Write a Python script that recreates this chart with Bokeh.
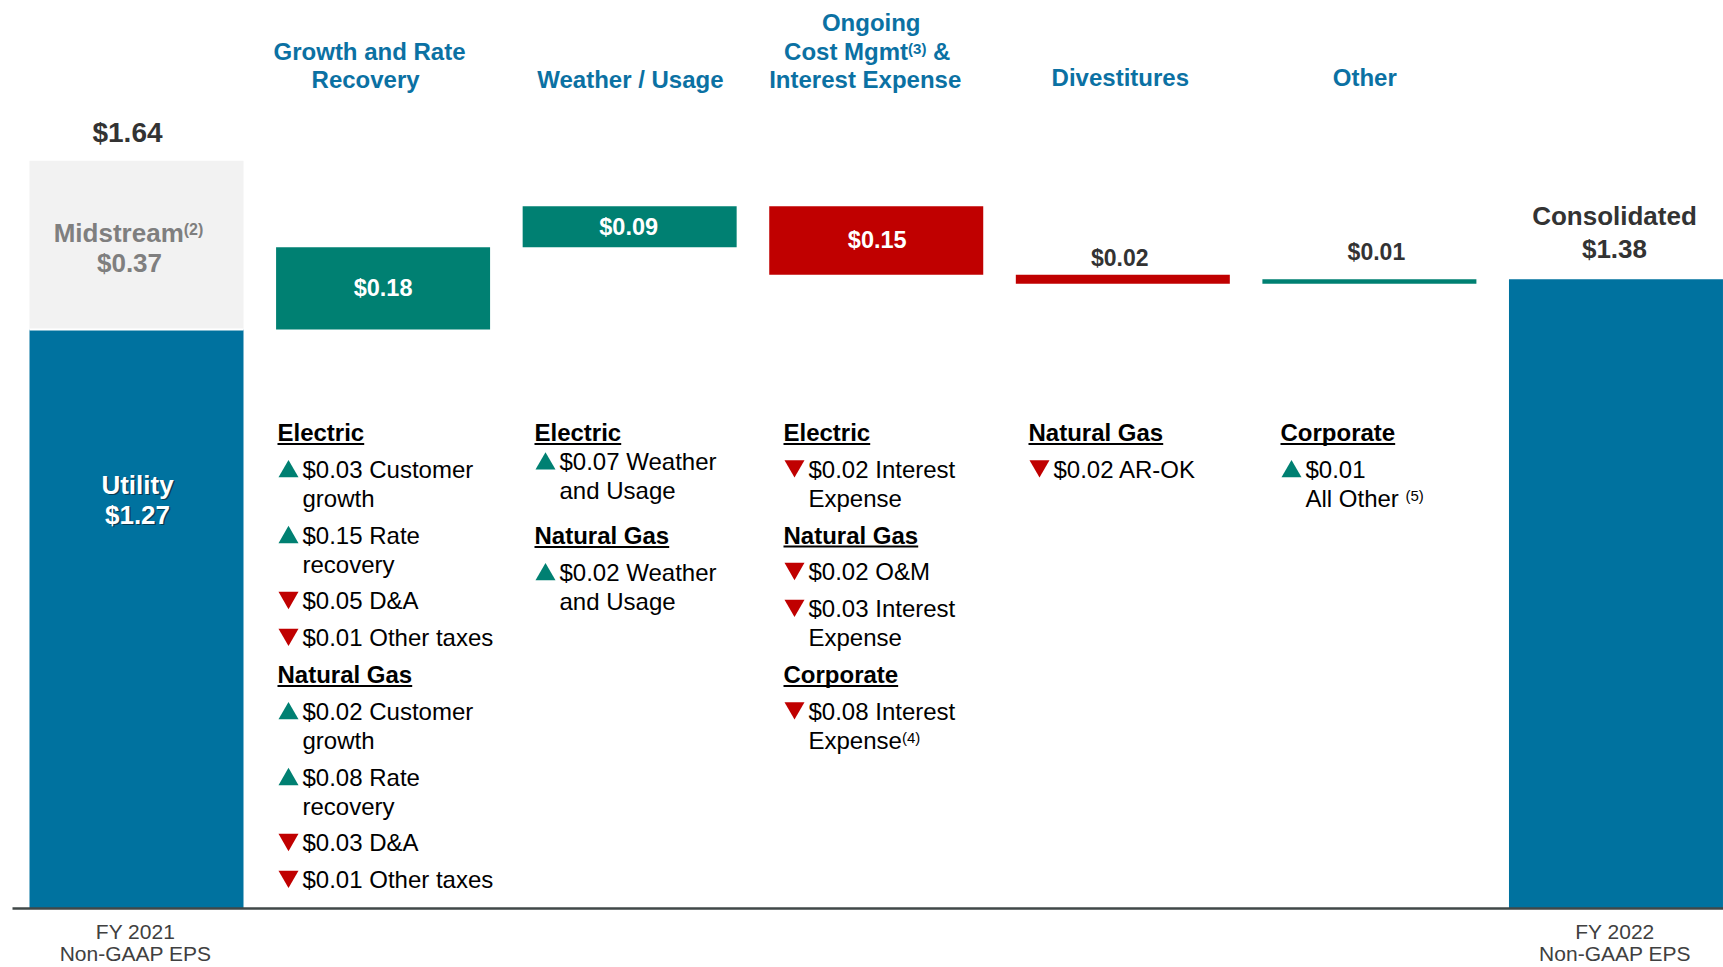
from bokeh.plotting import figure
from bokeh.models import Range1d, ColumnDataSource
from bokeh.core.properties import value
from bokeh.embed import file_html
from bokeh.resources import INLINE

# ---------------- data ----------------
utility_2021 = 1.27
midstream_2021 = 0.37
total_2021 = 1.64
consolidated_2022 = 1.38

step_names = [
    ["Growth and Rate", "Recovery"],
    ["Weather / Usage"],
    ["Ongoing", "Cost Mgmt^(3)^\u00a0&", "Interest Expense"],
    ["Divestitures"],
    ["Other"],
]
step_values = [0.18, 0.09, -0.15, -0.02, 0.01]

start_axis_label = ["FY 2021", "Non-GAAP EPS"]
end_axis_label = ["FY 2022", "Non-GAAP EPS"]

detail_growth = [
    ("head", ["Electric"]),
    ("up", ["$0.03 Customer", "growth"]),
    ("up", ["$0.15 Rate", "recovery"]),
    ("down", ["$0.05 D&A"]),
    ("down", ["$0.01 Other taxes"]),
    ("head", ["Natural Gas"]),
    ("up", ["$0.02 Customer", "growth"]),
    ("up", ["$0.08 Rate", "recovery"]),
    ("down", ["$0.03 D&A"]),
    ("down", ["$0.01 Other taxes"]),
]
detail_weather = [
    ("head", ["Electric"]),
    ("up", ["$0.07 Weather", "and Usage"]),
    ("head", ["Natural Gas"]),
    ("up", ["$0.02 Weather", "and Usage"]),
]
detail_cost = [
    ("head", ["Electric"]),
    ("down", ["$0.02 Interest", "Expense"]),
    ("head", ["Natural Gas"]),
    ("down", ["$0.02 O&M"]),
    ("down", ["$0.03 Interest", "Expense"]),
    ("head", ["Corporate"]),
    ("down", ["$0.08 Interest", "Expense^(4)"]),
]
detail_divest = [
    ("head", ["Natural Gas"]),
    ("down", ["$0.02 AR-OK"]),
]
detail_other = [
    ("head", ["Corporate"]),
    ("up", ["$0.01", "All Other\u00a0^(5)"]),
]
details = [detail_growth, detail_weather, detail_cost, detail_divest, detail_other]

# ---------------- style / layout ----------------
W, H = 1723, 967
FONT = "Liberation Sans"
BLUE = "#00729F"
TEAL = "#008072"
RED = "#C00000"
GRAY_BAR = "#F2F2F2"
HEAD_BLUE = "#0B71A3"
DARK = "#333333"

XC0, DX = 136.0, 246.58      # pixel of category 0, pixels per category
Y0, K = 908.0, 456.0          # pixel of $0, pixels per $
BW = 214.0 / DX

def X(px):
    return (px - XC0) / DX

def Y(py):
    return (Y0 - py) / K

def bar_px(i):
    return XC0 + DX * i

BOLD_W = {'C': .722, 'o': .611, 's': .556, 't': .333, ' ': .278, '\u00a0': .278, 'M': .833,
          'g': .611, 'm': .889, 'i': .278, 'd': .611, 'r': .389, 'e': .556, 'a': .556,
          'E': .667, 'l': .278, 'c': .556, 'N': .722, 'u': .611, 'G': .778, 'p': .611,
          '(': .333, ')': .333, '&': .722}
REG_W = {'E': .667, 'x': .5, 'p': .556, 'e': .556, 'n': .556, 's': .5, 'A': .667, 'l': .222,
         ' ': .278, '\u00a0': .278, 'O': .778, 't': .278, 'h': .556, 'r': .333, '(': .333,
         ')': .333}

def tw(s, size, bold):
    tab = BOLD_W if bold else REG_W
    return sum(tab.get(ch, .556) for ch in s) * size

p = figure(width=W, height=H, x_range=Range1d(X(0), X(W)), y_range=Range1d(Y(H), Y(0)),
           output_backend="svg", toolbar_location=None, x_axis_location=None,
           y_axis_location=None, min_border=0, outline_line_color=None,
           background_fill_color="white", border_fill_color="white")
p.grid.visible = False

def txt(xs, ys, texts, size, color, bold=False, align="left", alpha=1.0):
    p.text(x=[X(v) for v in xs], y=[Y(v) for v in ys], text=texts,
           text_font=value(FONT), text_font_size=f"{size}px",
           text_font_style="bold" if bold else "normal", text_color=color,
           text_align=align, text_baseline="middle", text_alpha=alpha)

def rich(x_left, y, s, size, sup_size, color, bold):
    parts = s.split("^")
    x = x_left
    for k, part in enumerate(parts):
        if not part:
            continue
        if k % 2 == 0:
            txt([x], [y], [part], size, color, bold)
            x += tw(part, size, bold)
        else:
            txt([x], [y - 3], [part], sup_size, color, bold)
            x += tw(part, sup_size, bold)

def rich_width(s, size, sup_size, bold):
    parts = s.split("^")
    return sum(tw(part, size if k % 2 == 0 else sup_size, bold) for k, part in enumerate(parts))

# ---------------- bars ----------------
xs, bottoms, tops, colors = [], [], [], []
xs += [0, 0]
bottoms += [0, utility_2021]
tops += [utility_2021, utility_2021 + midstream_2021]
colors += [BLUE, GRAY_BAR]
level = utility_2021
for i, v in enumerate(step_values):
    xs.append(i + 1)
    bottoms.append(min(level, level + v))
    tops.append(max(level, level + v))
    colors.append(TEAL if v > 0 else RED)
    level += v
xs.append(len(step_values) + 1)
bottoms.append(0)
tops.append(consolidated_2022)
colors.append(BLUE)

src = ColumnDataSource(dict(x=xs, bottom=bottoms, top=tops, color=colors))
p.vbar(x="x", bottom="bottom", top="top", width=BW, fill_color="color", line_color=None, source=src)
# thin white separation between utility and midstream
p.segment(x0=[-BW / 2], y0=[utility_2021], x1=[BW / 2], y1=[utility_2021], line_color="white", line_width=2)

# baseline
p.segment(x0=[X(12)], y0=[0], x1=[X(W)], y1=[0], line_color="#404848", line_width=2.5)

# ---------------- start bar labels ----------------
c0 = bar_px(0)
txt([c0 - 9], [Y0 - total_2021 * K - 28], [f"${total_2021:.2f}"], 28, DARK, True, "center")
mw = rich_width("Midstream^(2)", 26, 16, True)
rich(c0 - 8 - mw / 2, 232, "Midstream^(2)", 26, 16, "#7F7F7F", True)
txt([c0 - 7], [262], [f"${midstream_2021:.2f}"], 26, "#7F7F7F", True, "center")
for dx_, dy_, col, al in [(1.5, 1.5, "#0a2b3c", 0.75), (0, 0, "white", 1.0)]:
    txt([c0 + 1 + dx_], [484 + dy_], ["Utility"], 26, col, True, "center", al)
    txt([c0 + 1 + dx_], [514 + dy_], [f"${utility_2021:.2f}"], 26, col, True, "center", al)
txt([c0 - 1, c0 - 1], [931, 953], start_axis_label, 21, "#404040", False, "center")

# ---------------- end bar labels ----------------
ce = bar_px(len(step_values) + 1)
txt([ce - 1.5, ce - 1.5], [215, 248], ["Consolidated", f"${consolidated_2022:.2f}"], 26, DARK, True, "center")
txt([ce - 1, ce - 1], [931, 953], end_axis_label, 21, "#404040", False, "center")

# ---------------- step headings & value labels ----------------
head_dx = [-19.5, -3, -9, -4.5, -8]
head_first_y = [50.5, 78.7, 22, 77, 77]
label_dx = [0, -1, 1, -3, 7]
label_above = [None, None, None, 17, 27.5]
level = utility_2021
for i, (names, v) in enumerate(zip(step_names, step_values)):
    c = bar_px(i + 1)
    y = head_first_y[i]
    for line in names:
        w = rich_width(line, 24, 15, True)
        rich(c + head_dx[i] - w / 2, y, line, 24, 15, HEAD_BLUE, True)
        y += 28.7
    lo, hi = min(level, level + v), max(level, level + v)
    lab = f"${abs(v):.2f}"
    if label_above[i] is None:
        txt([c + label_dx[i]], [Y0 - (lo + hi) / 2 * K], [lab], 23.5, "white", True, "center")
    else:
        txt([c + label_dx[i]], [Y0 - hi * K - label_above[i]], [lab], 23, DARK, True, "center")
    level += v

# ---------------- detail text ----------------
col_left = [277, 534, 783, 1028, 1280]
tri_dx = 11
text_dx = 25
gap_default = 36.8
wrap = 29
# (gap after the first heading, gap before a later heading) where a column differs
col_gaps = [None, (29, 45), None, None, None]
up_x, up_y, dn_x, dn_y = [], [], [], []
for ci, col in enumerate(details):
    left = col_left[ci]
    y = 432
    prev = None
    for idx, (kind, lines) in enumerate(col):
        if prev is not None:
            g = gap_default
            if col_gaps[ci] is not None:
                if idx == 1:
                    g = col_gaps[ci][0]
                elif kind == "head":
                    g = col_gaps[ci][1]
            y += g
        if kind == "head":
            txt([left], [y], [lines[0]], 24, "black", True)
            w = tw(lines[0], 24, True)
            p.segment(x0=[X(left)], y0=[Y(y + 11.5)], x1=[X(left + w)], y1=[Y(y + 11.5)],
                      line_color="black", line_width=2)
        else:
            if kind == "up":
                up_x.append(X(left + tri_dx)); up_y.append(Y(y + 2.3))
            else:
                dn_x.append(X(left + tri_dx)); dn_y.append(Y(y - 3.3))
            for li, line in enumerate(lines):
                rich(left + text_dx, y + li * wrap, line, 24, 15, "black", False)
            y += wrap * (len(lines) - 1)
        prev = kind

p.scatter(x=up_x, y=up_y, marker="triangle", size=20, fill_color=TEAL, line_color=None)
p.scatter(x=dn_x, y=dn_y, marker="inverted_triangle", size=20, fill_color=RED, line_color=None)

open("out.html", "w").write(file_html(p, INLINE))
